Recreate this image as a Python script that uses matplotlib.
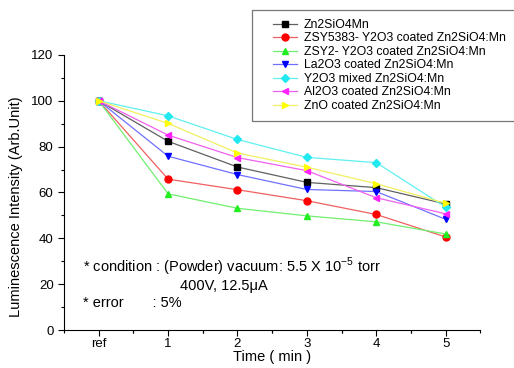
import matplotlib
matplotlib.use("Agg")
import matplotlib.pyplot as plt
from matplotlib.patches import Rectangle

plt.rcParams['font.family'] = ['Liberation Sans', 'DejaVu Sans']

x = [0, 1, 2, 3, 4, 5]
xlabels = ["ref", "1", "2", "3", "4", "5"]

names = ["Zn2SiO4Mn",
         "ZSY5383- Y2O3 coated Zn2SiO4:Mn",
         "ZSY2- Y2O3 coated Zn2SiO4:Mn",
         "La2O3 coated Zn2SiO4:Mn",
         "Y2O3 mixed Zn2SiO4:Mn",
         "Al2O3 coated Zn2SiO4:Mn",
         "ZnO coated Zn2SiO4:Mn"]

zn2sio4 = [100, 82.3, 71.1, 64.4, 62.1, 55.0]
zsy5383 = [100, 65.8, 61.2, 56.4, 50.4, 40.6]
zsy2 = [100, 59.4, 53.1, 49.8, 47.2, 41.9]
la2o3 = [100, 75.8, 67.8, 61.3, 60.4, 48.3]
y2o3_mixed = [100, 93.4, 83.1, 75.3, 73.0, 53.6]
al2o3 = [100, 85.0, 75.2, 69.5, 57.7, 50.7]
zno = [100, 90.1, 77.2, 71.0, 63.8, 55.3]

series = [zn2sio4, zsy5383, zsy2, la2o3, y2o3_mixed, al2o3, zno]
colors = ["black", "red", "#22ee22", "blue", "#22e8f0", "#ff22ff", "#ffff00"]
markers = ["s", "o", "^", "v", "D", "<", ">"]
line_colors = ["#606060", "#f06060", "#70f070", "#7070ff", "#60f0f0", "#f060f0", "#f0f060"]

fig = plt.figure(figsize=(5.14, 3.68), dpi=100)
ax = fig.add_axes([0.1245, 0.103, 0.81, 0.748])

for vals, name, c, lc, m in zip(series, names, colors, line_colors, markers):
    ax.plot(x, vals, color=lc, lw=0.9, marker=m, markersize=5 if m != "D" else 4.5,
            markerfacecolor=c, markeredgecolor=c, label=name)

ax.set_xlim(-0.5, 5.5)
ax.set_ylim(0, 120)
ax.set_xticks(x)
ax.set_xticklabels(xlabels)
ax.set_xticks([-0.5 + i for i in range(7)] + [0.5 + i for i in range(5)], minor=True)
ax.set_yticks(range(0, 121, 20))
ax.set_yticks(range(10, 120, 20), minor=True)
ax.tick_params(direction="out", labelsize=9.5, length=4, width=0.8)
ax.tick_params(axis="x", pad=1.5)
ax.tick_params(which="minor", direction="out", length=2.5, width=0.8)
for s in ["top", "right"]:
    ax.spines[s].set_visible(False)
ax.set_ylabel("Luminescence Intensity (Arb.Unit)", fontsize=10.5)
ax.yaxis.set_label_coords(-0.098, 0.45)
ax.set_xlabel("Time ( min )", fontsize=10.5, labelpad=0)

ax.text(-0.22, 25.4, "* condition : (Powder) vacuum: 5.5 X 10$^{\\mathregular{-5}}$ torr", fontsize=10.5)
ax.text(1.17, 17.5, "400V, 12.5\u03bcA", fontsize=10.5)
ax.text(-0.22, 10.1, "* error       : 5%", fontsize=10.5)

fig.patches.append(Rectangle((252 / 514, 1 - 121 / 368), 0.6, 111 / 368,
                             transform=fig.transFigure, fill=False,
                             edgecolor="#777777", lw=0.9))
leg = fig.legend(loc="upper left", bbox_to_anchor=(273 / 514, 1 - 19 / 368), fontsize=8.8,
                 frameon=False, handlelength=2.0, handletextpad=0.5,
                 labelspacing=0.12, borderpad=0, borderaxespad=0)

fig.savefig("out.png", dpi=100)
